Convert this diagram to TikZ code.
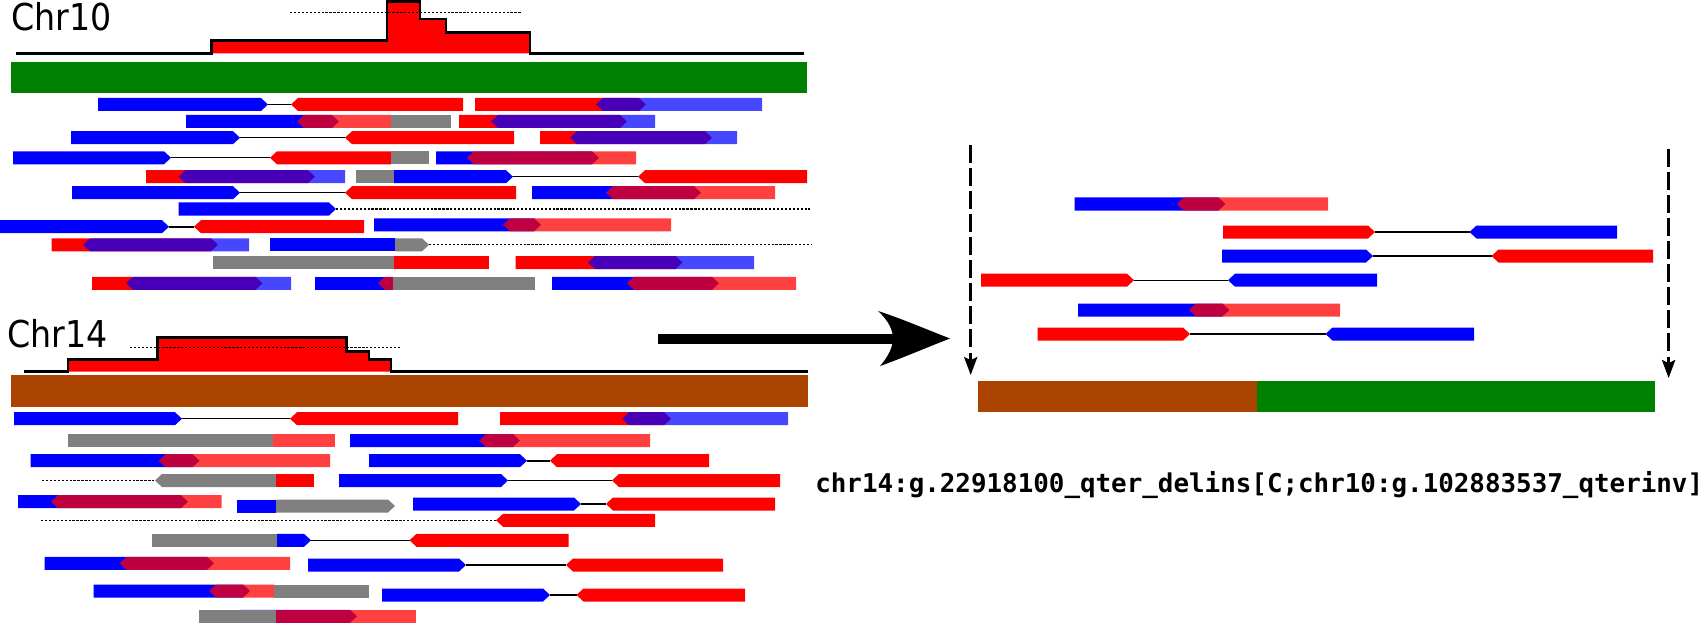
\documentclass[tikz,border=0pt]{standalone}
\usepackage{fontspec}
\usepackage{tikz}
\usetikzlibrary{arrows.meta}
\newfontfamily\chrfont{DejaVu Sans Condensed}
\newfontfamily\hgvsfont{DejaVu Sans Mono}
\definecolor{ReadBlue}{HTML}{0000FF}
\definecolor{ReadRed}{HTML}{FF0000}
\definecolor{RefGreen}{HTML}{008000}
\definecolor{RefBrown}{HTML}{AA4400}
\definecolor{ClipGray}{HTML}{808080}
% reads: style, left end, right end, row
\newcommand{\fwdread}[4]{\fill[#1] (#2,#4-6.5) -- (#3-7,#4-6.5) -- (#3,#4) -- (#3-7,#4+6.5) -- (#2,#4+6.5) -- cycle;}
\newcommand{\revread}[4]{\fill[#1] (#2,#4) -- (#2+7,#4-6.5) -- (#3,#4-6.5) -- (#3,#4+6.5) -- (#2+7,#4+6.5) -- cycle;}
\newcommand{\clipread}[4]{\fill[#1] (#2,#4-6.5) rectangle (#3,#4+6.5);}
\newcommand{\mateline}[4]{\draw[#1] (#2,#4) -- (#3,#4);}

\begin{document}
\begin{tikzpicture}[x=0.025cm,y=-0.025cm,
  rb/.style={fill=ReadBlue}, rr/.style={fill=ReadRed},
  rbt/.style={fill=ReadBlue,fill opacity=0.72}, rrt/.style={fill=ReadRed,fill opacity=0.75},
  rg/.style={fill=ClipGray},
  ml/.style={line width=0.8pt}, dl/.style={line width=0.8pt,dash pattern=on 1.6pt off 1.2pt},
  cov/.style={line width=1.8pt,line join=miter},
  brk/.style={line width=1.8pt,dash pattern=on 12.8pt off 3.6pt,-{Stealth[length=4.5mm,width=3.3mm,inset=0.8mm]}},
  lbl/.style={inner sep=0pt,anchor=base west},
  chr/.style={lbl,font=\chrfont\fontsize{26.3}{30}\selectfont}]
\useasboundingbox (0,0) rectangle (1702,623);

% Chr10 coverage and reference
\node[chr] (chrten) at (11,31) {Chr10};
\fill[ReadRed] (211.6,53.3) -- (211.6,40.7) -- (387,40.7) -- (387,1.7) -- (420,1.7) -- (420,19) -- (446,19) -- (446,32.7) -- (530,32.7) -- (530,53.3) -- cycle;
\draw[cov] (16,53.3) -- (211.6,53.3) -- (211.6,40.7) -- (387,40.7) -- (387,1.7) -- (420,1.7) -- (420,19) -- (446,19) -- (446,32.7) -- (530,32.7) -- (530,53.3) -- (804,53.3);
\draw[dl] (290,12.7) -- (522,12.7);
\fill[RefGreen] (10.5,61.7) rectangle (807,93.3);

% Chr10 reads
\fwdread{rb}{98}{268}{104.5} \mateline{ml}{268}{291}{104.5} \revread{rr}{291}{463}{104.5}
\fwdread{rr}{475}{646}{104.5} \revread{rbt}{596}{762}{104.5}
\fwdread{rb}{186}{339}{121.5} \revread{rrt}{297}{391}{121.5} \clipread{rg}{391}{451}{121.5}
\fwdread{rr}{459}{627}{121.5} \revread{rbt}{491}{655}{121.5}
\fwdread{rb}{71}{240}{137.7} \mateline{ml}{240}{345}{137.7} \revread{rr}{345}{514}{137.7}
\fwdread{rr}{540}{712}{137.7} \revread{rbt}{570}{737}{137.7}
\fwdread{rb}{13}{171}{157.8} \mateline{ml}{171}{270}{157.8} \revread{rr}{270}{391}{157.8} \clipread{rg}{391}{429}{157.8}
\fwdread{rb}{436}{599}{157.8} \revread{rrt}{467}{636}{157.8}
\fwdread{rr}{146}{315}{176.7} \revread{rbt}{178.5}{345}{176.7}
\clipread{rg}{356}{394}{176.7} \fwdread{rb}{394}{513}{176.7} \mateline{ml}{513}{638}{176.7} \revread{rr}{638}{807}{176.7}
\fwdread{rb}{72}{240}{192.7} \mateline{ml}{240}{345}{192.7} \revread{rr}{345}{516}{192.7}
\fwdread{rb}{532}{701}{192.7} \revread{rrt}{606}{775}{192.7}
\fwdread{rb}{178.5}{336}{209} \mateline{dl}{336}{810}{209}
\fwdread{rb}{0}{169}{226.7} \mateline{ml,line width=1.5pt}{169}{194}{226.7} \revread{rr}{194}{364}{226.7}
\fwdread{rb}{374}{541}{224.8} \revread{rrt}{503}{671}{224.8}
\fwdread{rr}{51.5}{218}{244.8} \revread{rbt}{83}{249}{244.8}
\clipread{rb}{270}{395}{244.8} \fwdread{rg}{395}{429}{244.8} \mateline{dl}{429}{812}{244.8}
\clipread{rg}{213}{394}{262.5} \clipread{rr}{394}{489}{262.5}
\fwdread{rr}{515.5}{682.5}{262.5} \revread{rbt}{588}{754}{262.5}
\fwdread{rr}{92}{262.5}{283.3} \revread{rbt}{126}{291}{283.3}
\clipread{rb}{315}{393}{283.3} \revread{rrt}{378}{393}{283.3} \clipread{rg}{393}{534.5}{283.3}
\fwdread{rb}{552}{719}{283.3} \revread{rrt}{627}{796}{283.3}

% Chr14 coverage and reference
\node[chr] (chrfourteen) at (7,347.7) {Chr14};
\fill[ReadRed] (68,371.7) -- (68,359.3) -- (157.5,359.3) -- (157.5,337.3) -- (346.5,337.3) -- (346.5,351.7) -- (369,351.7) -- (369,359.3) -- (391,359.3) -- (391,371.7) -- cycle;
\draw[cov] (23.6,371.7) -- (68,371.7) -- (68,359.3) -- (157.5,359.3) -- (157.5,337.3) -- (346.5,337.3) -- (346.5,351.7) -- (369,351.7) -- (369,359.3) -- (391,359.3) -- (391,371.7) -- (808,371.7);
\draw[dl] (130,347.7) -- (401.6,347.7);
\fill[RefBrown] (10.5,375) rectangle (808,407.3);

% Chr14 reads
\fwdread{rb}{14}{182}{418.7} \mateline{ml}{182}{290}{418.7} \revread{rr}{290}{458}{418.7}
\fwdread{rr}{500}{671}{418.7} \revread{rbt}{622}{788}{418.7}
\clipread{rg}{68}{273}{440.5} \clipread{rrt}{273}{335}{440.5}
\fwdread{rb}{350}{520}{440.5} \revread{rrt}{479}{650}{440.5}
\fwdread{rb}{30.5}{199.5}{460.7} \revread{rrt}{158.5}{330}{460.7}
\fwdread{rb}{369}{527}{460.7} \mateline{ml,line width=1.5pt}{527}{550}{460.7} \revread{rr}{550}{709}{460.7}
\mateline{dl}{42}{155}{480.5} \revread{rg}{155}{276}{480.5} \clipread{rr}{276}{314}{480.5}
\fwdread{rb}{339}{508}{480.5} \mateline{ml}{508}{612}{480.5} \revread{rr}{612}{780}{480.5}
\fwdread{rb}{18}{188}{501.7} \revread{rrt}{51}{221.5}{501.7}
\clipread{rb}{237}{276}{506} \fwdread{rg}{276}{395}{506}
\fwdread{rb}{413}{581}{504} \mateline{ml,line width=1.5pt}{581}{606}{504} \revread{rr}{606}{775}{504}
\mateline{dl}{41}{496}{520.3} \revread{rr}{496}{655}{520.3}
\clipread{rg}{152}{277}{540.3} \fwdread{rb}{277}{311}{540.3} \mateline{ml}{311}{409.5}{540.3} \revread{rr}{409.5}{568.6}{540.3}
\fwdread{rb}{44.6}{214}{563.3} \revread{rrt}{119.7}{290}{563.3}
\fwdread{rb}{308}{466}{565} \mateline{ml}{466}{566}{565} \revread{rr}{566}{723}{565}
\fwdread{rb}{93.5}{250}{591} \revread{rrt}{209}{274}{591} \clipread{rg}{274}{369}{591}
\fwdread{rb}{382}{550}{595} \mateline{ml,line width=1.5pt}{550}{576.5}{595} \revread{rr}{576.5}{745}{595}
\fwdread{rb}{240}{357}{616.3} \clipread{rrt}{275.6}{416}{616.3} \clipread{rg}{198.5}{275.6}{616.3}

% junction
\coordinate (from) at (658,338.5);
\coordinate (notch) at (893,338.5);
\coordinate (tip) at (950,338.5);
\draw[line width=0.25cm] (from) -- (notch);
\fill (tip) .. controls (928,330) and (900,318) .. (878,311) .. controls (888,320) and (893,330) .. (notch)
  .. controls (893,347) and (888,357) .. (880,366) .. controls (900,359) and (928,347) .. (tip) -- cycle;

\coordinate (lefttop) at (970.7,145);
\coordinate (leftend) at (970.7,375);
\coordinate (righttop) at (1668.6,149);
\coordinate (rightend) at (1668.6,378);
\draw[brk] (lefttop) -- (leftend);
\draw[brk] (righttop) -- (rightend);

\fwdread{rb}{1074.7}{1225.5}{204} \revread{rrt}{1176.7}{1328}{204}
\fwdread{rr}{1223}{1375}{232} \mateline{ml}{1375}{1469.5}{232} \revread{rb}{1469.5}{1617}{232}
\fwdread{rb}{1222}{1373}{256} \mateline{ml}{1373}{1491.5}{256} \revread{rr}{1491.5}{1653}{256}
\fwdread{rr}{981}{1134}{280.2} \mateline{ml}{1134}{1228}{280.2} \revread{rb}{1228}{1377}{280.2}
\fwdread{rb}{1078}{1229.4}{310} \revread{rrt}{1189}{1340}{310}
\fwdread{rr}{1037.6}{1190}{334} \mateline{ml}{1190}{1325.5}{334} \revread{rb}{1325.5}{1474}{334}

\fill[RefBrown] (978,380.7) rectangle (1257,411.7);
\fill[RefGreen] (1257,380.7) rectangle (1655,411.7);

\node[lbl,font=\hgvsfont\bfseries\fontsize{18.4}{22}\selectfont] (hgvs) at (815,492) {chr14:g.22918100\_qter\_delins[C;chr10:g.102883537\_qterinv]};
\end{tikzpicture}
\end{document}
